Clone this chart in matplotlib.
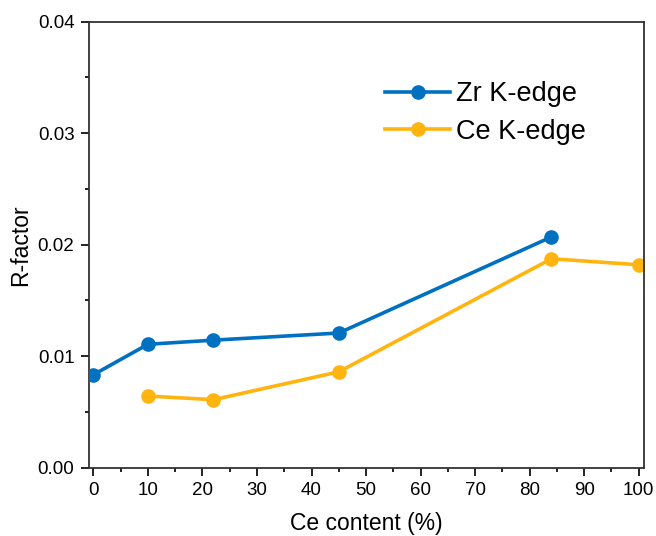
import matplotlib
matplotlib.use('Agg')
import matplotlib.pyplot as plt
from matplotlib.ticker import MultipleLocator, FormatStrFormatter

plt.rcParams['font.family'] = ['Liberation Sans', 'DejaVu Sans']

# R-factor of the EXAFS fits vs Ce content
zr_x = [0, 10, 22, 45, 84]
zr_r = [0.00834, 0.01107, 0.01144, 0.01208, 0.0207]
ce_x = [10, 22, 45, 84, 100]
ce_r = [0.00643, 0.0061, 0.0086, 0.01874, 0.0182]

fig = plt.figure(figsize=(6.56, 5.36), dpi=100)
ax = fig.add_axes([0.1357, 0.1274, 0.8455, 0.8321])

ax.plot(zr_x, zr_r, color='#0070C0', lw=2.6, marker='o', ms=9.5, label='Zr K-edge', zorder=3)
ax.plot(ce_x, ce_r, color='#FFB40F', lw=2.6, marker='o', ms=9.5, label='Ce K-edge', zorder=2)

ax.set_xlim(-0.8, 100.9)
ax.set_ylim(0, 0.04)
ax.xaxis.set_major_locator(MultipleLocator(10))
ax.xaxis.set_minor_locator(MultipleLocator(5))
ax.yaxis.set_major_locator(MultipleLocator(0.01))
ax.yaxis.set_minor_locator(MultipleLocator(0.005))
ax.yaxis.set_major_formatter(FormatStrFormatter('%.2f'))

ax.tick_params(which='both', direction='out', width=1.4, color='#222222', top=False, right=False)
ax.tick_params(which='major', length=5.5, labelsize=13.5, pad=5)
ax.tick_params(which='minor', length=3)
for s in ax.spines.values():
    s.set_linewidth(1.3)
    s.set_color('#333333')

ax.set_xlabel('Ce content (%)', fontsize=16.5, labelpad=9)
ax.set_ylabel('R-factor', fontsize=16.5, labelpad=4)

ax.legend(loc='upper left', bbox_to_anchor=(0.534, 0.866), frameon=False, borderpad=0,
          borderaxespad=0, fontsize=19.5, handlelength=2.4, handletextpad=0.2,
          labelspacing=0.41)

fig.savefig('out.png', dpi=100)
